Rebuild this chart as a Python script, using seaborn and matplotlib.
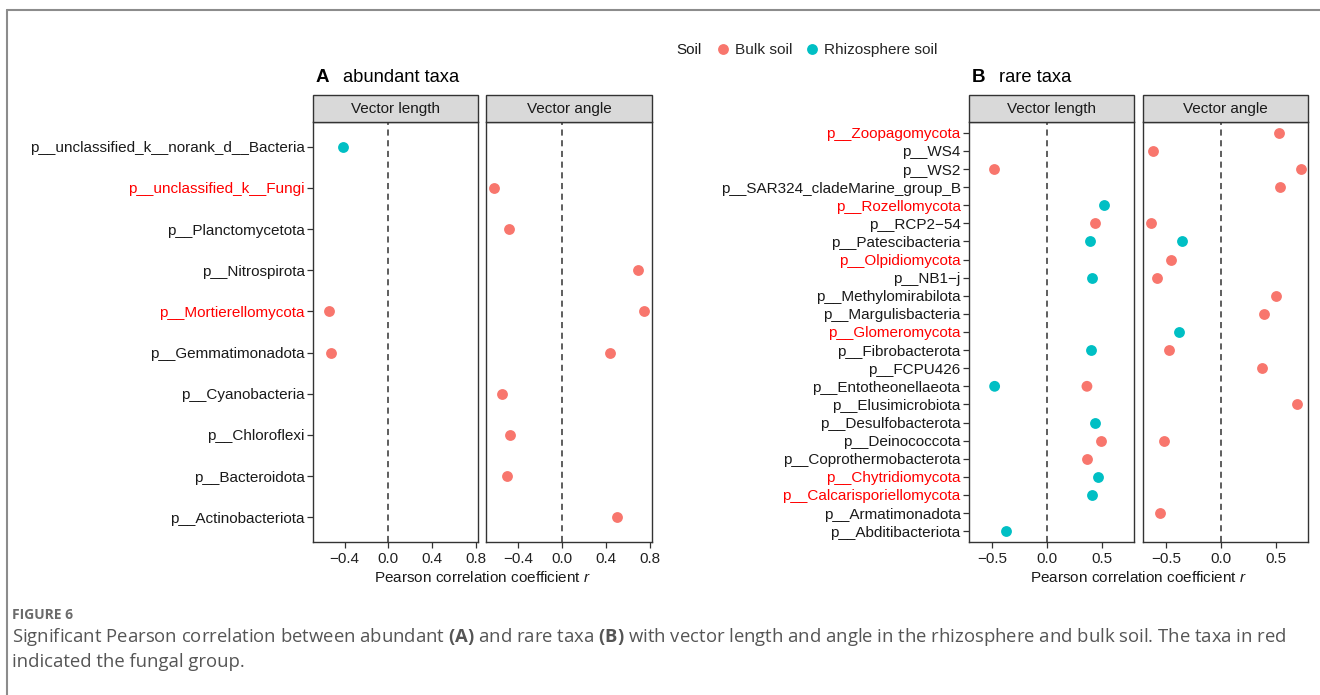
import numpy as np
import pandas as pd
import matplotlib
matplotlib.use("Agg")
import matplotlib.pyplot as plt
import seaborn as sns
from matplotlib.lines import Line2D
from matplotlib.patches import Rectangle

# ---------------- data ----------------
soil_levels = ["Bulk soil", "Rhizosphere soil"]
soil_colors = ["#F8766D", "#00BFC4"]

A_taxa = ["p__unclassified_k__norank_d__Bacteria", "p__unclassified_k__Fungi",
          "p__Planctomycetota", "p__Nitrospirota", "p__Mortierellomycota",
          "p__Gemmatimonadota", "p__Cyanobacteria", "p__Chloroflexi",
          "p__Bacteroidota", "p__Actinobacteriota"]
A_fungal = ["p__unclassified_k__Fungi", "p__Mortierellomycota"]

A_length_taxa = ["p__unclassified_k__norank_d__Bacteria", "p__Mortierellomycota", "p__Gemmatimonadota"]
A_length_soil = ["Rhizosphere soil", "Bulk soil", "Bulk soil"]
A_length_r = [-0.41, -0.54, -0.52]

A_angle_taxa = ["p__unclassified_k__Fungi", "p__Planctomycetota", "p__Nitrospirota",
                "p__Mortierellomycota", "p__Gemmatimonadota", "p__Cyanobacteria",
                "p__Chloroflexi", "p__Bacteroidota", "p__Actinobacteriota"]
A_angle_soil = ["Bulk soil"] * 9
A_angle_r = [-0.62, -0.48, 0.69, 0.75, 0.44, -0.54, -0.47, -0.50, 0.50]

B_taxa = ["p__Zoopagomycota", "p__WS4", "p__WS2", "p__SAR324_cladeMarine_group_B",
          "p__Rozellomycota", "p__RCP2\u221254", "p__Patescibacteria", "p__Olpidiomycota",
          "p__NB1\u2212j", "p__Methylomirabilota", "p__Margulisbacteria", "p__Glomeromycota",
          "p__Fibrobacterota", "p__FCPU426", "p__Entotheonellaeota", "p__Elusimicrobiota",
          "p__Desulfobacterota", "p__Deinococcota", "p__Coprothermobacterota",
          "p__Chytridiomycota", "p__Calcarisporiellomycota", "p__Armatimonadota",
          "p__Abditibacteriota"]
B_fungal = ["p__Zoopagomycota", "p__Rozellomycota", "p__Olpidiomycota", "p__Glomeromycota",
            "p__Chytridiomycota", "p__Calcarisporiellomycota"]

B_length_taxa = ["p__WS2", "p__Rozellomycota", "p__RCP2\u221254", "p__Patescibacteria",
                 "p__NB1\u2212j", "p__Fibrobacterota", "p__Entotheonellaeota",
                 "p__Entotheonellaeota", "p__Desulfobacterota", "p__Deinococcota",
                 "p__Coprothermobacterota", "p__Chytridiomycota",
                 "p__Calcarisporiellomycota", "p__Abditibacteriota"]
B_length_soil = ["Bulk soil", "Rhizosphere soil", "Bulk soil", "Rhizosphere soil",
                 "Rhizosphere soil", "Rhizosphere soil", "Rhizosphere soil", "Bulk soil",
                 "Rhizosphere soil", "Bulk soil", "Bulk soil", "Rhizosphere soil",
                 "Rhizosphere soil", "Rhizosphere soil"]
B_length_r = [-0.49, 0.515, 0.43, 0.39, 0.41, 0.40, -0.48, 0.36, 0.43, 0.485, 0.36,
              0.46, 0.41, -0.38]

B_angle_taxa = ["p__Zoopagomycota", "p__WS4", "p__WS2", "p__SAR324_cladeMarine_group_B",
                "p__RCP2\u221254", "p__Patescibacteria", "p__Olpidiomycota", "p__NB1\u2212j",
                "p__Methylomirabilota", "p__Margulisbacteria", "p__Glomeromycota",
                "p__Fibrobacterota", "p__FCPU426", "p__Elusimicrobiota", "p__Deinococcota",
                "p__Armatimonadota"]
B_angle_soil = ["Bulk soil", "Bulk soil", "Bulk soil", "Bulk soil", "Bulk soil",
                "Rhizosphere soil", "Bulk soil", "Bulk soil", "Bulk soil", "Bulk soil",
                "Rhizosphere soil", "Bulk soil", "Bulk soil", "Bulk soil", "Bulk soil",
                "Bulk soil"]
B_angle_r = [0.52, -0.62, 0.72, 0.53, -0.645, -0.36, -0.46, -0.59, 0.50, 0.39, -0.39,
             -0.48, 0.37, 0.69, -0.52, -0.555]

A_ticks = [-0.4, 0.0, 0.4, 0.8]
A_ticklabels = ["\u22120.4", "0.0", "0.4", "0.8"]
B_ticks = [-0.5, 0.0, 0.5]
B_ticklabels = ["\u22120.5", "0.0", "0.5"]
facet_labels = ["Vector length", "Vector angle"]

# ---------------- style ----------------
sns.set_theme(style="white")
plt.rcParams['font.family'] = ['Liberation Sans', 'DejaVu Sans']
plt.rcParams['mathtext.fontset'] = 'custom'
plt.rcParams['mathtext.it'] = 'Liberation Sans:italic'
plt.rcParams['mathtext.rm'] = 'Liberation Sans'
plt.rcParams['mathtext.bf'] = 'Open Sans:bold'

W, H = 1320, 695
fig = plt.figure(figsize=(W / 100, H / 100), dpi=100)
pal = dict(zip(soil_levels, soil_colors))


def fx(x):
    return x / W


def fy(y):
    return 1 - y / H


def add_ax(x0, y0, x1, y1):
    return fig.add_axes([fx(x0), fy(y1), (x1 - x0) / W, (y1 - y0) / H])


def strip(x0, x1, y0, y1, label):
    fig.add_artist(Rectangle((fx(x0), fy(y1)), (x1 - x0) / W, (y1 - y0) / H,
                             transform=fig.transFigure, facecolor="#D9D9D9",
                             edgecolor="#333333", lw=1.0))
    fig.text(fx((x0 + x1) / 2), fy((y0 + y1) / 2), label, ha="center", va="center",
             fontsize=11, color="#1a1a1a")


def panel(xs, taxa, fungal, datasets, ticks, ticklabels, letter, title):
    allr = datasets[0][2] + datasets[1][2]
    lo, hi = min(allr), max(allr)
    pad = 0.05 * (hi - lo)
    n = len(taxa)
    for i, ((x0, x1), (tx, so, rr)) in enumerate(zip(xs, datasets)):
        ax = add_ax(x0, 122, x1, 542)
        df = pd.DataFrame({"taxon": tx, "Soil": so, "r": rr})
        ax.axvline(0, color="#333333", lw=1.1, ls=(0, (4, 3)), zorder=1)
        sns.stripplot(data=df, x="r", y="taxon", hue="Soil", order=taxa,
                      hue_order=soil_levels, palette=pal, jitter=False, size=7.8,
                      linewidth=0, orient="h", ax=ax, legend=False, zorder=3)
        ax.set_xlim(lo - pad, hi + pad)
        ax.set_ylim(n - 1 + 0.6, -0.6)
        ax.set_xticks(ticks)
        ax.set_xticklabels(ticklabels)
        ax.set_xlabel("")
        ax.set_ylabel("")
        for s in ax.spines.values():
            s.set_color("#333333")
            s.set_linewidth(1.0)
        ax.tick_params(axis="x", length=4, width=0.9, color="#333333", labelsize=11,
                       labelcolor="#222222", pad=3, bottom=True)
        if i == 0:
            ax.tick_params(axis="y", length=4, width=0.9, color="#333333", labelsize=11,
                           pad=2, left=True)
            for lab in ax.get_yticklabels():
                lab.set_color("#FF0000" if lab.get_text() in fungal else "#1a1a1a")
        else:
            ax.tick_params(axis="y", left=False, labelleft=False)
        strip(x0, x1, 95, 122, facet_labels[i])
    xc = (xs[0][0] + xs[1][1]) / 2
    fig.text(fx(xc), fy(578), r"Pearson correlation coefficient $\mathit{r}$",
             ha="center", va="center", fontsize=11, color="#1a1a1a")
    fig.text(fx(xs[0][0] + 3), fy(77), letter, ha="left", va="center", fontsize=13.5,
             fontweight="bold", color="black")
    fig.text(fx(xs[0][0] + 30), fy(77), title, ha="left", va="center", fontsize=13.2,
             color="black")


panel([(313, 478), (486, 652)], A_taxa, A_fungal,
      [(A_length_taxa, A_length_soil, A_length_r), (A_angle_taxa, A_angle_soil, A_angle_r)],
      A_ticks, A_ticklabels, "A", "abundant taxa")
panel([(969, 1134), (1143, 1308)], B_taxa, B_fungal,
      [(B_length_taxa, B_length_soil, B_length_r), (B_angle_taxa, B_angle_soil, B_angle_r)],
      B_ticks, B_ticklabels, "B", "rare taxa")

# legend
fig.text(fx(676), fy(50), "Soil", ha="left", va="center", fontsize=11, color="#1a1a1a")
handles = [Line2D([], [], marker="o", ls="", color=c, markersize=7.8, markeredgewidth=0)
           for c in soil_colors]
fig.legend(handles, soil_levels, loc="center left", bbox_to_anchor=(fx(715), fy(50)),
           ncol=2, frameon=False, fontsize=11.1, handlelength=1.0, handletextpad=0.3,
           columnspacing=0.75, borderpad=0, borderaxespad=0)

# frame
fig.add_artist(Line2D([fx(7), 1], [fy(10), fy(10)], transform=fig.transFigure,
                      color="#8c8c8c", lw=1.5))
fig.add_artist(Line2D([fx(7), fx(7)], [fy(10), 0], transform=fig.transFigure,
                      color="#8c8c8c", lw=1.5))

# caption
fig.text(fx(12), fy(615), "FIGURE 6", ha="left", va="center", fontsize=10,
         fontweight="bold", family="Open Sans", color="#6b6b6b")
fig.text(fx(12), fy(637),
         r"Significant Pearson correlation between abundant $\mathbf{(A)}$ and rare taxa "
         r"$\mathbf{(B)}$ with vector length and angle in the rhizosphere and bulk soil. "
         r"The taxa in red", ha="left", va="center", fontsize=13.3, family="Open Sans",
         color="#555555")
fig.text(fx(12), fy(662), "indicated the fungal group.", ha="left", va="center",
         fontsize=13.3, family="Open Sans", color="#555555")

fig.savefig("out.png", dpi=100)
